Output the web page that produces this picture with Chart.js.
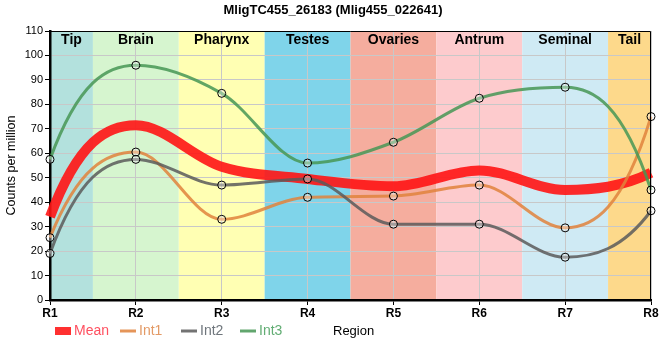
<!DOCTYPE html>
<html>
<head>
<meta charset="utf-8">
<script src="https://cdn.jsdelivr.net/npm/chart.js@4"></script>
<style>
html,body{margin:0;padding:0;background:#fff;}
#wrap{width:660px;height:360px;position:relative;}
</style>
</head>
<body>
<div id="wrap"><canvas id="c" width="660" height="360"></canvas></div>
<script>
const TITLE = 'MligTC455_26183 (Mlig455_022641)';
const categories = ['R1','R2','R3','R4','R5','R6','R7','R8'];
const regionNames = ['Tip','Brain','Pharynx','Testes','Ovaries','Antrum','Seminal','Tail'];
const regionColors = ['#b3e1dd','#d6f5cf','#ffffb3','#7fd4ea','#f5ad9e','#fdcbcd','#cfeaf4','#fdd98b'];
const meanValues = [34, 71.5, 54.5, 49.5, 46.5, 53, 45, 52];
const int1Values = [25.5, 60.5, 33, 42, 42.5, 47, 29.5, 75];
const int2Values = [19, 57.5, 47, 49.5, 31, 31, 17.5, 36.5];
const int3Values = [57.5, 96, 84.5, 56, 64.5, 82.5, 87, 45];
const yTicks = [0,10,20,30,40,50,60,70,80,90,100,110];

const FONT = '"Liberation Sans", Arial, sans-serif';
const END_SLOPE = 2.5; // endpoint tangent factor relative to the end secant

const seriesStyle = [
  {label:'Mean', color:'rgba(255,20,20,0.9)', legend:'#ff5060', width:10, box:true, order:10},
  {label:'Int1', color:'rgba(224,130,60,0.85)', legend:'#e39a66', width:3, order:3},
  {label:'Int2', color:'rgba(90,90,90,0.85)', legend:'#6f767c', width:3, order:2},
  {label:'Int3', color:'rgba(70,150,85,0.85)', legend:'#62ad74', width:3, order:1}
];

const endTangentPlugin = {
  id:'endTangent',
  beforeDatasetsDraw(chart){
    chart.getSortedVisibleDatasetMetas().forEach(meta=>{
      const line = meta.dataset;
      if(!line) return;
      line.updateControlPoints(chart.chartArea, 'x');
      const p = meta.data;
      const n = p.length;
      if(n < 2) return;
      p[0].cp2y = p[0].y + END_SLOPE*(p[1].y - p[0].y)/3;
      p[n-1].cp1y = p[n-1].y - END_SLOPE*(p[n-1].y - p[n-2].y)/3;
      line._path = undefined;
    });
  }
};

const bandsPlugin = {
  id:'bands',
  beforeDraw(chart){
    const {ctx, chartArea:a, scales:{x}} = chart;
    ctx.save();
    for(let i=0;i<regionNames.length;i++){
      let l = Math.max(a.left, x.getPixelForValue(i-0.5));
      let r = Math.min(a.right, x.getPixelForValue(i+0.5));
      ctx.fillStyle = regionColors[i];
      ctx.fillRect(l, a.top, r-l, a.bottom-a.top);
    }
    ctx.restore();
  },
  beforeDatasetsDraw(chart){
    const {ctx, chartArea:a, scales:{x}} = chart;
    ctx.save();
    ctx.fillStyle = '#000';
    ctx.font = 'bold 14px ' + FONT;
    ctx.textAlign = 'center';
    ctx.textBaseline = 'middle';
    for(let i=0;i<regionNames.length;i++){
      let l = Math.max(a.left, x.getPixelForValue(i-0.5));
      let r = Math.min(a.right, x.getPixelForValue(i+0.5));
      ctx.fillText(regionNames[i], (l+r)/2, a.top+9);
    }
    ctx.restore();
  },
  afterDraw(chart){
    const {ctx, chartArea:a} = chart;
    ctx.save();
    ctx.strokeStyle = '#000';
    ctx.lineWidth = 1;
    ctx.beginPath();
    ctx.moveTo(a.left, a.top+0.5);
    ctx.lineTo(a.right-0.5, a.top+0.5);
    ctx.lineTo(a.right-0.5, a.bottom);
    ctx.stroke();
    ctx.fillStyle = '#000';
    ctx.font = 'bold 13px ' + FONT;
    ctx.textAlign = 'center';
    ctx.textBaseline = 'middle';
    ctx.fillText(TITLE, 333, 10);
    const ly = 331;
    const xs = [55, 120, 181, 240];
    ctx.font = '14px ' + FONT;
    ctx.textAlign = 'left';
    seriesStyle.forEach((s,i)=>{
      const x0 = xs[i];
      if(s.box){
        ctx.fillStyle = '#ff3030';
        ctx.fillRect(x0, ly-4, 16, 8);
      } else {
        ctx.strokeStyle = s.color;
        ctx.lineWidth = 3;
        ctx.beginPath();
        ctx.moveTo(x0, ly);
        ctx.lineTo(x0+16, ly);
        ctx.stroke();
      }
      ctx.fillStyle = s.legend;
      ctx.fillText(s.label, x0+19, ly);
    });
    ctx.fillStyle = '#000';
    ctx.font = '13px ' + FONT;
    ctx.fillText('Region', 333, ly);
    ctx.restore();
  }
};

const datasets = [meanValues, int1Values, int2Values, int3Values].map((vals,i)=>{
  const s = seriesStyle[i];
  return {
    label: s.label,
    data: vals,
    borderColor: s.color,
    backgroundColor: s.color,
    borderWidth: s.width,
    cubicInterpolationMode: 'monotone',
    pointRadius: i===0 ? 0 : 4,
    pointHoverRadius: 0,
    pointBorderColor: '#000',
    pointBorderWidth: 1,
    pointBackgroundColor: 'rgba(255,255,255,0.35)',
    order: s.order,
    fill:false
  };
});

new Chart(document.getElementById('c'), {
  type:'line',
  data:{labels:categories, datasets},
  plugins:[bandsPlugin, endTangentPlugin],
  options:{
    responsive:false,
    animation:false,
    devicePixelRatio:1,
    events:[],
    layout:{padding:{left:0,right:9,top:31,bottom:40}},
    plugins:{legend:{display:false}, title:{display:false}, tooltip:{enabled:false}},
    scales:{
      x:{
        type:'category',
        offset:false,
        grid:{color:'#c8c8c8', lineWidth:1, tickLength:5, tickColor:'#000', drawOnChartArea:true},
        border:{color:'#000', width:2.5},
        ticks:{color:'#000', font:{family:FONT, size:12, weight:'bold'}, padding:1, maxRotation:0, autoSkip:false},
        afterFit(s){ s.height = 20; }
      },
      y:{
        min:0, max:110,
        afterBuildTicks(s){ s.ticks = yTicks.map(v=>({value:v})); },
        grid:{color:'#c8c8c8', lineWidth:1, tickLength:5, tickColor:'#000'},
        border:{color:'#000', width:2.5},
        ticks:{color:'#000', font:{family:FONT, size:11}, padding:2},
        title:{display:true, text:'Counts per million', color:'#000', font:{family:FONT, size:12.5}, padding:{top:4,bottom:0}},
        afterFit(s){ s.width = 50; }
      }
    }
  }
});
</script>
</body>
</html>
